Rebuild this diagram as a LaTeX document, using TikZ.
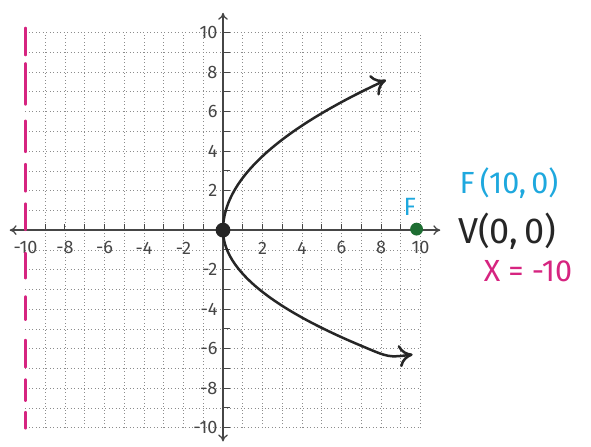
\documentclass[tikz,border=0pt]{standalone}
\usepackage{fontspec}
\setmainfont{Fira Sans}
\usetikzlibrary{arrows.meta}
\definecolor{pinkd}{RGB}{214,36,128}
\definecolor{cyanb}{RGB}{30,168,222}
\definecolor{greend}{RGB}{30,110,50}
\definecolor{inkc}{RGB}{38,38,38}
\definecolor{gridc}{RGB}{140,140,140}
\definecolor{labc}{RGB}{70,70,70}
\tikzset{
  gridline/.style={gridc, line width=0.5pt, dotted},
  axisline/.style={labc, line width=0.9pt, -{To[length=5pt,width=7pt]}},
  tickmark/.style={labc, line width=0.7pt},
  ticklab/.style={labc, font=\fontsize{13}{13}\selectfont, inner sep=1pt},
  curve/.style={inkc, line width=1.8pt, line cap=round, -{To[length=10pt,width=16pt,line width=1.8pt]}},
  directrix/.style={pinkd, line width=2.8pt, line cap=round},
  handtext/.style={font=\fontsize{22}{22}\selectfont, inner sep=0pt}
}
\begin{document}
\begin{tikzpicture}[x=0.5cm,y=0.5cm]
\useasboundingbox (-11.29,-10.94) rectangle (18.63,11.65);
% grid
\foreach \i in {-9,...,10} \draw[gridline] (\i,-10) -- (\i,10);
\foreach \j in {-10,...,10} \draw[gridline] (-10,\j) -- (10,\j);
% axes
\coordinate (xl) at (-10.8,0); \coordinate (xr) at (11,0);
\coordinate (yb) at (0,-10.7); \coordinate (yt) at (0,11);
\coordinate (o) at (0,0);
\draw[axisline] (o) -- (xl);
\draw[axisline] (o) -- (xr);
\draw[axisline] (o) -- (yb);
\draw[axisline] (o) -- (yt);
% ticks
\foreach \i in {-10,...,-1,1,2,...,10} {
  \draw[tickmark] (\i,0) -- (\i,0.3);
  \draw[tickmark] (0,\i) -- (0.35,\i);
}
% tick labels
\foreach \i in {-10,-8,-6,-4,-2,2,4,6,8,10} {
  \node[ticklab] (xl\i) at (\i,-0.9) {\i};
  \node[ticklab, anchor=east] (yl\i) at (-0.2,\i) {\i};
}
% directrix
\foreach \a/\b in {10.2/8.9, 8.4/6.4, 5.5/4.0, 3.3/2.0, 1.3/0.05, -1.2/-2.4, -3.4/-4.5, -5.6/-6.9, -7.6/-8.6, -9.25/-10}
  \draw[directrix] (-10,\a) -- (-10,\b);
% parabola
\draw[curve] plot[domain=0:7.6, samples=40, smooth] ({\x*\x/7.0},\x);
\draw[curve] plot[domain=0:-5.9, samples=40, smooth] ({\x*\x/4.9},\x) .. controls (8.4,-6.45) .. (9.6,-6.3);
% points
\node[circle, fill=inkc, inner sep=0pt, minimum size=0.75*0.5cm] (v) at (o) {};
\node[circle, fill=greend, inner sep=0pt, minimum size=0.65*0.5cm] (f) at (9.8,0.05) {};
\node[cyanb, font=\fontsize{18}{18}\selectfont, inner sep=0pt] (flab) at (9.45,1.2) {F};
% texts
\node[handtext, cyanb] (ft) at (14.48,2.38) {F\,(10,\,0)};
\node[handtext, inkc, font=\fontsize{26}{26}\selectfont] (vt) at (14.38,-0.05) {V(0,\,0)};
\node[handtext, pinkd] (xt) at (15.44,-2.08) {X = -10};
\end{tikzpicture}
\end{document}
